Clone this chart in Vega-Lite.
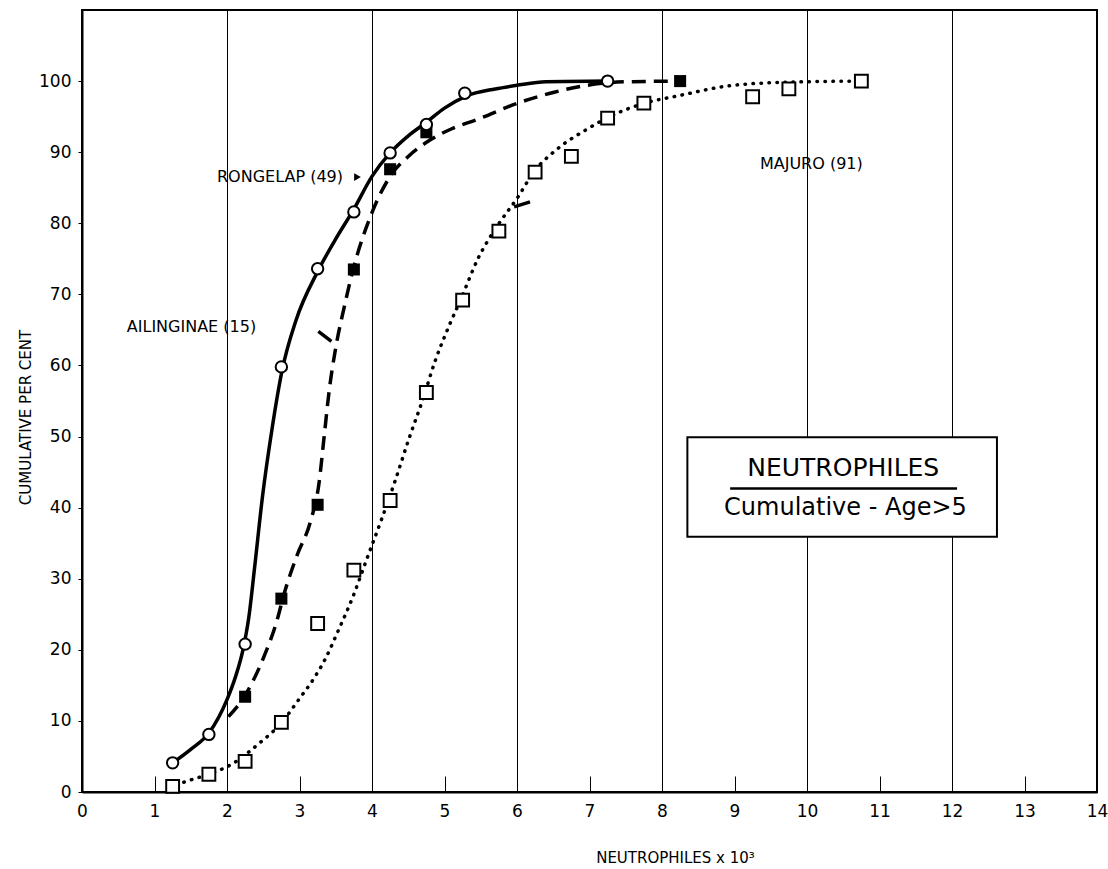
{
  "$schema": "https://vega.github.io/schema/vega-lite/v6.json",
  "width": 1015,
  "height": 782,
  "autosize": {"type": "none"},
  "padding": {"left": 82, "top": 10, "right": 11, "bottom": 77},
  "background": "white",
  "config": {
    "view": {"stroke": "black", "strokeWidth": 2},
    "font": "DejaVu Sans"
  },
  "datasets": {
    "curves": [
      {"series": "Rongelap", "x": 1.25, "y": 4.1},
      {"series": "Rongelap", "x": 1.5, "y": 6.0},
      {"series": "Rongelap", "x": 1.75, "y": 8.3},
      {"series": "Rongelap", "x": 2.0, "y": 13.0},
      {"series": "Rongelap", "x": 2.12, "y": 16.3},
      {"series": "Rongelap", "x": 2.22, "y": 20.0},
      {"series": "Rongelap", "x": 2.3, "y": 24.5},
      {"series": "Rongelap", "x": 2.38, "y": 31.5},
      {"series": "Rongelap", "x": 2.49, "y": 41.6},
      {"series": "Rongelap", "x": 2.62, "y": 51},
      {"series": "Rongelap", "x": 2.76, "y": 59.3},
      {"series": "Rongelap", "x": 2.95, "y": 66.3},
      {"series": "Rongelap", "x": 3.25, "y": 73.2},
      {"series": "Rongelap", "x": 3.5, "y": 77.8},
      {"series": "Rongelap", "x": 3.75, "y": 82},
      {"series": "Rongelap", "x": 4.0, "y": 86.6},
      {"series": "Rongelap", "x": 4.25, "y": 89.9},
      {"series": "Rongelap", "x": 4.5, "y": 92.3},
      {"series": "Rongelap", "x": 4.75, "y": 94.2},
      {"series": "Rongelap", "x": 5.0, "y": 96.2},
      {"series": "Rongelap", "x": 5.3, "y": 97.9},
      {"series": "Rongelap", "x": 5.7, "y": 98.9},
      {"series": "Rongelap", "x": 6.0, "y": 99.4},
      {"series": "Rongelap", "x": 6.4, "y": 99.9},
      {"series": "Rongelap", "x": 7.25, "y": 100},
      {"series": "Ailinginae", "x": 2.02, "y": 10.6},
      {"series": "Ailinginae", "x": 2.25, "y": 13.6},
      {"series": "Ailinginae", "x": 2.5, "y": 18.8},
      {"series": "Ailinginae", "x": 2.68, "y": 23.8},
      {"series": "Ailinginae", "x": 2.8, "y": 28.3},
      {"series": "Ailinginae", "x": 2.97, "y": 33.4},
      {"series": "Ailinginae", "x": 3.15, "y": 38},
      {"series": "Ailinginae", "x": 3.27, "y": 43.5},
      {"series": "Ailinginae", "x": 3.34, "y": 50},
      {"series": "Ailinginae", "x": 3.41, "y": 56.5},
      {"series": "Ailinginae", "x": 3.5, "y": 62.5},
      {"series": "Ailinginae", "x": 3.61, "y": 67.9},
      {"series": "Ailinginae", "x": 3.74, "y": 73.5},
      {"series": "Ailinginae", "x": 4.0, "y": 81.5},
      {"series": "Ailinginae", "x": 4.25, "y": 86.6},
      {"series": "Ailinginae", "x": 4.5, "y": 89.4},
      {"series": "Ailinginae", "x": 4.8, "y": 91.7},
      {"series": "Ailinginae", "x": 5.1, "y": 93.3},
      {"series": "Ailinginae", "x": 5.45, "y": 94.6},
      {"series": "Ailinginae", "x": 6.01, "y": 96.9},
      {"series": "Ailinginae", "x": 6.5, "y": 98.4},
      {"series": "Ailinginae", "x": 6.96, "y": 99.4},
      {"series": "Ailinginae", "x": 7.5, "y": 99.9},
      {"series": "Ailinginae", "x": 8.25, "y": 100},
      {"series": "Majuro", "x": 1.3, "y": 1.0},
      {"series": "Majuro", "x": 1.5, "y": 1.7},
      {"series": "Majuro", "x": 1.75, "y": 2.5},
      {"series": "Majuro", "x": 2.08, "y": 4.0},
      {"series": "Majuro", "x": 2.45, "y": 6.9},
      {"series": "Majuro", "x": 2.74, "y": 9.6},
      {"series": "Majuro", "x": 2.99, "y": 13},
      {"series": "Majuro", "x": 3.2, "y": 16},
      {"series": "Majuro", "x": 3.36, "y": 18.8},
      {"series": "Majuro", "x": 3.53, "y": 22.6},
      {"series": "Majuro", "x": 3.73, "y": 27.3},
      {"series": "Majuro", "x": 3.94, "y": 33.1},
      {"series": "Majuro", "x": 4.13, "y": 38.3},
      {"series": "Majuro", "x": 4.31, "y": 43.5},
      {"series": "Majuro", "x": 4.52, "y": 50},
      {"series": "Majuro", "x": 4.7, "y": 55.2},
      {"series": "Majuro", "x": 4.87, "y": 60.6},
      {"series": "Majuro", "x": 5.06, "y": 65.5},
      {"series": "Majuro", "x": 5.22, "y": 69.2},
      {"series": "Majuro", "x": 5.47, "y": 75.2},
      {"series": "Majuro", "x": 5.7, "y": 79.2},
      {"series": "Majuro", "x": 6.02, "y": 83.8},
      {"series": "Majuro", "x": 6.23, "y": 87.2},
      {"series": "Majuro", "x": 6.55, "y": 90.4},
      {"series": "Majuro", "x": 6.96, "y": 93.2},
      {"series": "Majuro", "x": 7.24, "y": 94.8},
      {"series": "Majuro", "x": 7.76, "y": 96.9},
      {"series": "Majuro", "x": 8.21, "y": 97.9},
      {"series": "Majuro", "x": 8.9, "y": 99.3},
      {"series": "Majuro", "x": 9.59, "y": 99.8},
      {"series": "Majuro", "x": 10.75, "y": 100}
    ],
    "points": [
      {"series": "Rongelap", "x": 1.25, "y": 4.1},
      {"series": "Rongelap", "x": 1.75, "y": 8.1},
      {"series": "Rongelap", "x": 2.25, "y": 20.8},
      {"series": "Rongelap", "x": 2.75, "y": 59.8},
      {"series": "Rongelap", "x": 3.25, "y": 73.6},
      {"series": "Rongelap", "x": 3.75, "y": 81.6},
      {"series": "Rongelap", "x": 4.25, "y": 89.9},
      {"series": "Rongelap", "x": 4.75, "y": 93.9},
      {"series": "Rongelap", "x": 5.28, "y": 98.3},
      {"series": "Rongelap", "x": 7.25, "y": 100},
      {"series": "Ailinginae", "x": 2.25, "y": 13.4},
      {"series": "Ailinginae", "x": 2.75, "y": 27.2},
      {"series": "Ailinginae", "x": 3.25, "y": 40.4},
      {"series": "Ailinginae", "x": 3.75, "y": 73.5},
      {"series": "Ailinginae", "x": 4.25, "y": 87.6},
      {"series": "Ailinginae", "x": 4.75, "y": 92.8},
      {"series": "Ailinginae", "x": 8.25, "y": 100},
      {"series": "Majuro", "x": 1.25, "y": 0.8},
      {"series": "Majuro", "x": 1.75, "y": 2.5},
      {"series": "Majuro", "x": 2.25, "y": 4.3},
      {"series": "Majuro", "x": 2.75, "y": 9.8},
      {"series": "Majuro", "x": 3.25, "y": 23.7},
      {"series": "Majuro", "x": 3.75, "y": 31.2},
      {"series": "Majuro", "x": 4.25, "y": 41},
      {"series": "Majuro", "x": 4.75, "y": 56.2},
      {"series": "Majuro", "x": 5.25, "y": 69.2},
      {"series": "Majuro", "x": 5.75, "y": 78.9},
      {"series": "Majuro", "x": 6.25, "y": 87.2},
      {"series": "Majuro", "x": 6.75, "y": 89.4},
      {"series": "Majuro", "x": 7.25, "y": 94.8},
      {"series": "Majuro", "x": 7.75, "y": 96.9},
      {"series": "Majuro", "x": 9.25, "y": 97.8},
      {"series": "Majuro", "x": 9.75, "y": 98.9},
      {"series": "Majuro", "x": 10.75, "y": 100}
    ]
  },
  "encoding": {
    "x": {
      "field": "x",
      "type": "quantitative",
      "scale": {"domain": [0, 14], "nice": false, "zero": false},
      "axis": {
        "values": [0, 1, 2, 3, 4, 5, 6, 7, 8, 9, 10, 11, 12, 13, 14],
        "title": "NEUTROPHILES x 10³",
        "titleFont": "DejaVu Sans",
        "titleFontSize": 15,
        "titleFontWeight": "normal",
        "titleColor": "black",
        "titleX": 593,
        "titleY": 65,
        "titleAnchor": "middle",
        "titleAlign": "center",
        "titleBaseline": "middle",
        "labelFont": "DejaVu Sans",
        "labelFontSize": 17,
        "labelColor": "black",
        "labelPadding": 27,
        "labelFlush": false,
        "labelOverlap": false,
        "tickSize": -16,
        "tickColor": "black",
        "tickWidth": 1,
        "domainColor": "black",
        "domainWidth": 2,
        "grid": true,
        "gridColor": "black",
        "gridWidth": 1,
        "gridOpacity": {"condition": {"test": "datum.value % 2 === 0", "value": 1}, "value": 0}
      }
    },
    "y": {
      "field": "y",
      "type": "quantitative",
      "scale": {"domain": [0, 110], "nice": false},
      "axis": {
        "values": [0, 10, 20, 30, 40, 50, 60, 70, 80, 90, 100],
        "title": "CUMULATIVE PER CENT",
        "titleFont": "DejaVu Sans",
        "titleFontSize": 15,
        "titleFontWeight": "normal",
        "titleColor": "black",
        "titleX": -57,
        "titleY": 407,
        "titleAngle": -90,
        "titleAlign": "center",
        "titleBaseline": "middle",
        "labelFont": "DejaVu Sans",
        "labelFontSize": 17,
        "labelColor": "black",
        "labelPadding": 7,
        "labelFlush": false,
        "labelOverlap": false,
        "tickSize": 4,
        "tickColor": "black",
        "domainColor": "black",
        "domainWidth": 2,
        "grid": false
      }
    }
  },
  "layer": [
    {
      "data": {"name": "curves"},
      "transform": [{"filter": "datum.series === 'Rongelap'"}],
      "mark": {"type": "line", "color": "black", "strokeWidth": 3.5, "interpolate": "monotone"},
      "encoding": {}
    },
    {
      "data": {"name": "curves"},
      "transform": [{"filter": "datum.series === 'Ailinginae'"}],
      "mark": {"type": "line", "color": "black", "strokeWidth": 3.5, "strokeDash": [14, 8], "interpolate": "monotone"},
      "encoding": {}
    },
    {
      "data": {"name": "curves"},
      "transform": [{"filter": "datum.series === 'Majuro'"}],
      "mark": {"type": "line", "color": "black", "strokeWidth": 3.5, "strokeDash": [0.5, 7.5], "strokeCap": "round", "interpolate": "monotone"},
      "encoding": {}
    },
    {
      "data": {"name": "points"},
      "transform": [{"filter": "datum.series === 'Majuro'"}],
      "mark": {"type": "point", "shape": "square", "size": 165, "filled": true, "fill": "white", "stroke": "black", "strokeWidth": 2, "opacity": 1}
    },
    {
      "data": {"name": "points"},
      "transform": [{"filter": "datum.series === 'Ailinginae'"}],
      "mark": {"type": "point", "shape": "square", "size": 145, "filled": true, "color": "black", "opacity": 1}
    },
    {
      "data": {"name": "points"},
      "transform": [{"filter": "datum.series === 'Rongelap'"}],
      "mark": {"type": "point", "shape": "circle", "size": 130, "filled": true, "fill": "white", "stroke": "black", "strokeWidth": 2, "opacity": 1}
    },
    {
      "data": {"values": [
        {"x": 3.26, "y": 64.8, "x2": 3.44, "y2": 63.4},
        {"x": 5.96, "y": 82.3, "x2": 6.18, "y2": 83.0}
      ]},
      "mark": {"type": "rule", "color": "black", "strokeWidth": 3.5},
      "encoding": {
        "x2": {"field": "x2"},
        "y2": {"field": "y2"}
      }
    },
    {
      "data": {"values": [{"x": 3.8, "y": 86.5}]},
      "mark": {"type": "point", "shape": "triangle-right", "size": 60, "filled": true, "color": "black", "opacity": 1}
    },
    {
      "data": {"values": [{"x": 3.6, "y": 86.5, "label": "RONGELAP (49)"}]},
      "mark": {"type": "text", "align": "right", "baseline": "middle", "fontSize": 16, "font": "DejaVu Sans", "color": "black"},
      "encoding": {"text": {"field": "label"}}
    },
    {
      "data": {"values": [{"x": 1.51, "y": 65.4, "label": "AILINGINAE (15)"}]},
      "mark": {"type": "text", "align": "center", "baseline": "middle", "fontSize": 16, "font": "DejaVu Sans", "color": "black"},
      "encoding": {"text": {"field": "label"}}
    },
    {
      "data": {"values": [{"x": 10.06, "y": 88.3, "label": "MAJURO (91)"}]},
      "mark": {"type": "text", "align": "center", "baseline": "middle", "fontSize": 16, "font": "DejaVu Sans", "color": "black"},
      "encoding": {"text": {"field": "label"}}
    },
    {
      "data": {"values": [{"x": 8.35, "x2": 12.62, "y": 35.9, "y2": 49.9}]},
      "mark": {"type": "rect", "fill": "white", "stroke": "black", "strokeWidth": 2},
      "encoding": {
        "x2": {"field": "x2"},
        "y2": {"field": "y2"}
      }
    },
    {
      "data": {"values": [{"x": 8.94, "x2": 12.07, "y": 42.7}]},
      "mark": {"type": "rule", "color": "black", "strokeWidth": 2.5},
      "encoding": {"x2": {"field": "x2"}}
    },
    {
      "data": {"values": [{"x": 10.5, "y": 45.6, "label": "NEUTROPHILES"}]},
      "mark": {"type": "text", "align": "center", "baseline": "middle", "fontSize": 25, "font": "DejaVu Sans", "color": "black"},
      "encoding": {"text": {"field": "label"}}
    },
    {
      "data": {"values": [{"x": 10.53, "y": 40, "label": "Cumulative - Age>5"}]},
      "mark": {"type": "text", "align": "center", "baseline": "middle", "fontSize": 24, "font": "DejaVu Sans", "color": "black"},
      "encoding": {"text": {"field": "label"}}
    }
  ]
}
